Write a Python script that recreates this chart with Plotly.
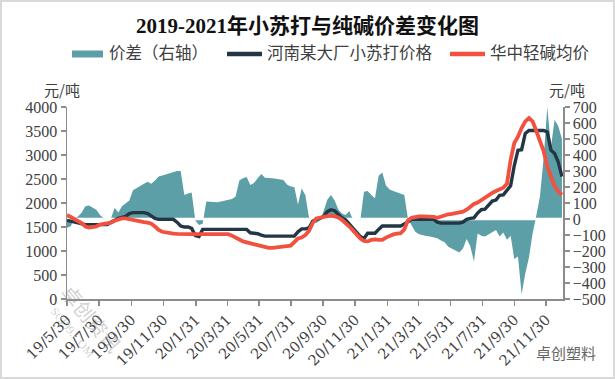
import pandas as pd
import plotly.graph_objects as go

# ---------------- data (weekly, Thursdays from 2019-05-30) ----------------
start_date = "2019-05-30"
n_weeks = 136

spread = [  # 价差（右轴）
    -55, -45, 0, 15, 40, 80, 85, 73, 58, 25,
    5, 0, 5, 70, 40, 80, 95, 115, 180, 195,
    206, 220, 233, 220, 240, 265, 272, 278, 285, 292,
    300, 300, 150, 160, 165, -10, -37, -30, 110, 108,
    106, 104, 110, 115, 120, 125, 140, 240, 255, 262,
    212, 225, 255, 282, 258, 254, 254, 252, 248, 244,
    215, 203, 200, 90, 190, 150, 10, -15, -25, -10,
    50, 120, 150, 115, 60, 35, 25, 50, -5, -8,
    -8, 170, 175, 150, 129, 270, 290, 210, 185, 175,
    165, 155, 150, 0, -40, -80, -95, -103, -107, -110,
    -115, -121, -135, -145, -173, -185, -195, -210, -185, -125,
    -170, -265, -90, -105, -110, -95, -80, -69, -110, -85,
    -130, -105, -250, -235, -470, -340, -240, -90, 20, 140,
    380, 700, 450, 620, 580, 500,
]

soda_price = [  # 河南某大厂小苏打价格
    1640, 1620, 1600, 1580, 1560, 1550, 1550, 1550, 1550, 1550,
    1550, 1550, 1600, 1650, 1680, 1700, 1720, 1780, 1800, 1800,
    1800, 1800, 1780, 1730, 1680, 1660, 1660, 1660, 1660, 1660,
    1600, 1520, 1500, 1500, 1470, 1320, 1300, 1450, 1450, 1450,
    1450, 1450, 1450, 1450, 1450, 1450, 1450, 1450, 1450, 1450,
    1380, 1370, 1360, 1330, 1310, 1310, 1310, 1310, 1310, 1310,
    1310, 1310, 1310, 1400, 1460, 1460, 1480, 1620, 1660, 1680,
    1720, 1820, 1860, 1840, 1760, 1690, 1650, 1570, 1480, 1390,
    1300, 1260, 1370, 1370, 1370, 1450, 1520, 1520, 1520, 1520,
    1520, 1520, 1560, 1620, 1660, 1660, 1660, 1660, 1660, 1660,
    1660, 1600, 1580, 1580, 1580, 1580, 1580, 1580, 1600, 1660,
    1680, 1690, 1790, 1860, 1870, 1960, 2040, 2060, 2160, 2170,
    2260, 2360, 2780, 3100, 3110, 3450, 3510, 3510, 3510, 3510,
    3510, 3480, 3100, 3030, 2850, 2550,
]

ash_price = [  # 华中轻碱均价
    1750, 1710, 1670, 1630, 1580, 1510, 1490, 1500, 1510, 1550,
    1560, 1570, 1590, 1630, 1660, 1680, 1680, 1660, 1650, 1640,
    1620, 1600, 1590, 1570, 1510, 1440, 1400, 1380, 1370, 1360,
    1355, 1350, 1350, 1350, 1350, 1350, 1350, 1350, 1350, 1350,
    1350, 1350, 1350, 1350, 1350, 1320, 1290, 1240, 1200, 1180,
    1150, 1130, 1110, 1090, 1070, 1065, 1065, 1070, 1080, 1090,
    1100, 1110, 1200, 1260, 1280, 1330, 1420, 1580, 1680, 1700,
    1720, 1740, 1740, 1720, 1700, 1650, 1590, 1510, 1430, 1340,
    1260, 1210, 1200, 1230, 1240, 1230, 1230, 1280, 1320, 1345,
    1360, 1370, 1450, 1640, 1690, 1710, 1720, 1720, 1720, 1715,
    1710, 1690, 1720, 1750, 1765, 1775, 1785, 1800, 1820, 1860,
    1930, 1980, 2010, 2060, 2120, 2180, 2210, 2250, 2280, 2320,
    2400, 2900, 3250, 3380, 3560, 3700, 3770, 3700, 3500, 3300,
    3080, 2760, 2540, 2350, 2240, 2170,
]

tick_dates = ["2019-05-30", "2019-07-30", "2019-09-30", "2019-11-30",
              "2020-01-31", "2020-03-31", "2020-05-31", "2020-07-31",
              "2020-09-30", "2020-11-30", "2021-01-31", "2021-03-31",
              "2021-05-31", "2021-07-31", "2021-09-30", "2021-11-30"]
tick_labels = ["19/5/30", "19/7/30", "19/9/30", "19/11/30", "20/1/31",
               "20/3/31", "20/5/31", "20/7/31", "20/9/30", "20/11/30",
               "21/1/31", "21/3/31", "21/5/31", "21/7/31", "21/9/30",
               "21/11/30"]

names = ["价差（右轴）", "河南某大厂小苏打价格", "华中轻碱均价"]
title_text = "2019-2021年小苏打与纯碱价差变化图"

dates = pd.date_range(start_date, periods=n_weeks, freq="7D")

# ---------------- styling ----------------
W, H = 615, 379
ML, MR, MT, MB = 67, 52, 107, 80
PW, PH = W - ML - MR, H - MT - MB

SERIF = "Liberation Serif, Times New Roman, Noto Sans CJK SC, serif"
WIDE_SERIF = "DejaVu Serif, Liberation Serif, serif"
CJK = "Noto Sans CJK SC, Liberation Serif, sans-serif"
AXIS_GRAY = "#8c8c8c"
TXT = "#404040"

TEAL = "#5c9fa7"
NAVY = "#233646"
RED = "#f2513f"
colors = [TEAL, NAVY, RED]

fig = go.Figure()

# area on base axis (right side, drawn beneath)
fig.add_trace(go.Scatter(
    x=dates, y=spread, name=names[0], mode="lines",
    line=dict(width=0, color=TEAL), fill="tozeroy", fillcolor=TEAL,
    yaxis="y", hoverinfo="skip"))
# white zero line over the area
fig.add_trace(go.Scatter(
    x=[dates[0], dates[-1]], y=[0, 0], mode="lines",
    line=dict(color="white", width=2.5), showlegend=False,
    yaxis="y", hoverinfo="skip"))
# price lines on overlay axis (left side)
fig.add_trace(go.Scatter(
    x=dates, y=soda_price, name=names[1], mode="lines",
    line=dict(color=NAVY, width=3.4), yaxis="y2"))
fig.add_trace(go.Scatter(
    x=dates, y=ash_price, name=names[2], mode="lines",
    line=dict(color=RED, width=3.8), yaxis="y2"))

tickfont = dict(family=SERIF, size=16, color=TXT)
axis_common = dict(showline=True, linecolor=AXIS_GRAY, linewidth=1.5,
                   ticks="outside", ticklen=5, tickcolor=AXIS_GRAY,
                   tickwidth=1.5, showgrid=False, zeroline=False,
                   automargin=False, ticklabeloverflow="allow")

fig.update_layout(
    width=W, height=H,
    margin=dict(l=ML, r=MR, t=MT, b=MB, autoexpand=False),
    paper_bgcolor="white", plot_bgcolor="white",
    showlegend=False,
    xaxis=dict(type="date", range=[dates[0], dates[-1] + pd.Timedelta(days=2)],
               tickmode="array", tickvals=tick_dates, ticktext=tick_labels,
               tickangle=-45, tickfont=dict(family=WIDE_SERIF, size=14.5, color=TXT),
               **axis_common),
    yaxis=dict(side="right", range=[-500, 700], dtick=100, tick0=0,
               tickfont=tickfont, **axis_common),
    yaxis2=dict(side="left", overlaying="y", range=[0, 4000], dtick=500,
                tick0=0, tickfont=tickfont, **axis_common),
)

def px_x(x):
    return (x - ML) / PW

def px_y(y):
    return (MT + PH - y) / PH

def add_text(text, x, y, font, xanchor="center", textangle=0):
    fig.add_annotation(xref="paper", yref="paper", showarrow=False,
                       x=px_x(x), y=px_y(y), xanchor=xanchor,
                       yanchor="middle", text=text, font=font,
                       textangle=textangle)

# title
add_text("<b>" + title_text + "</b>", 307, 26,
         dict(family=SERIF, size=21, color="#111111"))

# legend (drawn by hand so that it stays on one row as in the original)
leg_font = dict(family=SERIF, size=16.5, color=TXT)
leg_y = 54
sw_x = [(72, 103), (227, 262), (450, 485)]
txt_x = [107, 265, 488]
fig.add_shape(type="rect", xref="paper", yref="paper",
              x0=px_x(sw_x[0][0]), x1=px_x(sw_x[0][1]),
              y0=px_y(leg_y + 3.5), y1=px_y(leg_y - 3.5),
              line=dict(width=0), fillcolor=colors[0])
for k in (1, 2):
    fig.add_shape(type="line", xref="paper", yref="paper",
                  x0=px_x(sw_x[k][0]), x1=px_x(sw_x[k][1]),
                  y0=px_y(leg_y), y1=px_y(leg_y),
                  line=dict(color=colors[k], width=4.5))
for k in range(3):
    add_text(names[k], txt_x[k], leg_y, leg_font, xanchor="left")

# unit labels
unit_font = dict(family=CJK, size=15, color=TXT)
add_text("元/吨", 62, 89, unit_font)
add_text("元/吨", 567, 89, unit_font)

# watermarks
add_text("卓创塑料", 566, 352, dict(family=CJK, size=15, color="#666666"))
add_text("卓创资讯", 92, 318, dict(family=CJK, size=20, color="rgba(150,150,150,0.45)"),
         textangle=50)
add_text("SCI99.COM", 72, 332, dict(family=SERIF, size=12, color="rgba(150,150,150,0.45)"),
         textangle=50)

# outer border of the picture
fig.add_shape(type="rect", xref="paper", yref="paper",
              x0=px_x(1), x1=px_x(W - 1), y0=px_y(H - 1), y1=px_y(1),
              line=dict(color="#d9d9d9", width=2), layer="below")

# remove the default page margin so the figure sits at the window's corner
fig.write_html(
    "out.html",
    config={"displayModeBar": False, "staticPlot": True},
    post_script="document.body.style.margin='0';"
                "document.body.style.overflow='hidden';",
)
